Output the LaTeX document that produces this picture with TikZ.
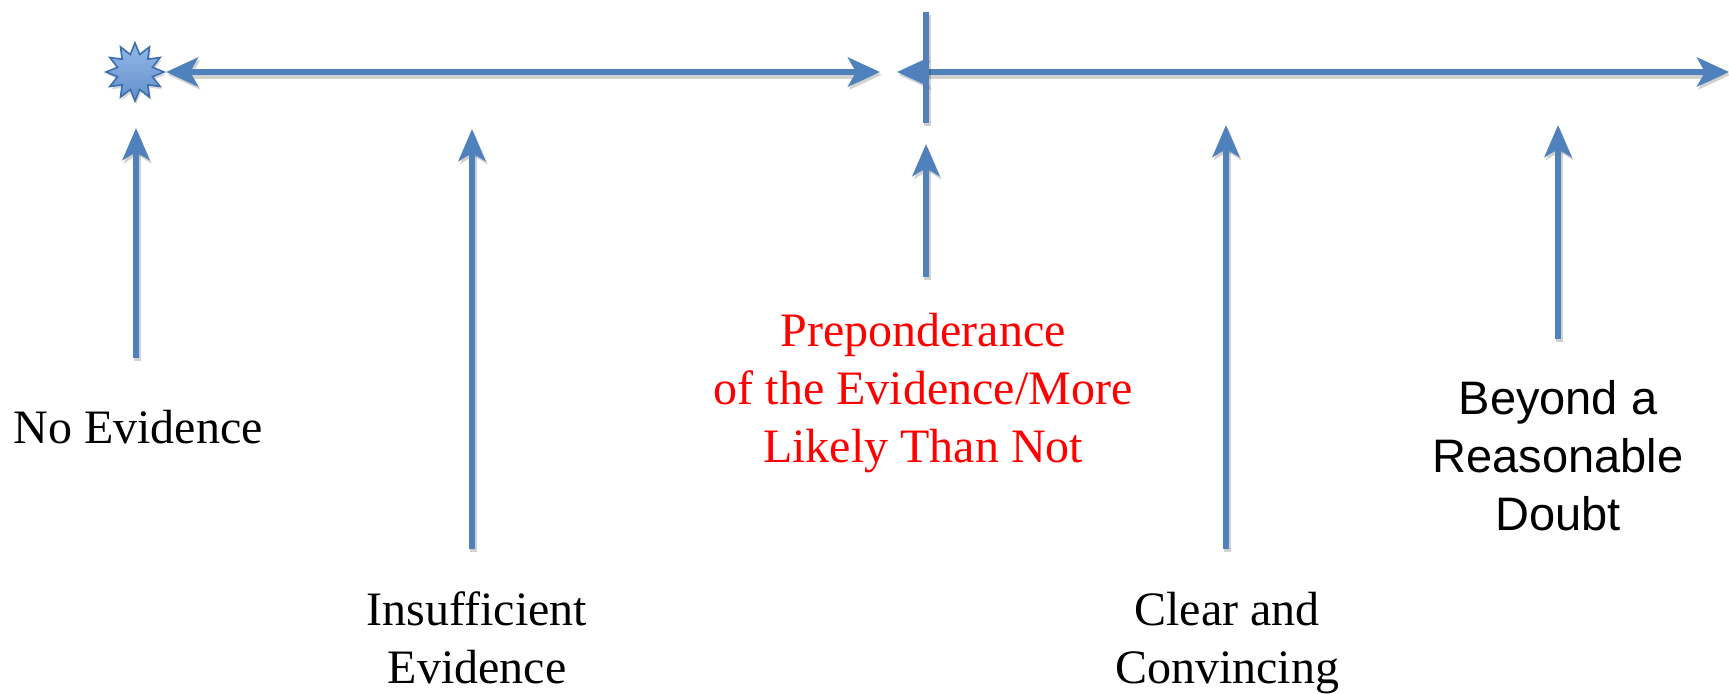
\documentclass[tikz,border=0pt]{standalone}
\usepackage{fontspec}
\setmainfont{Liberation Serif}
\newfontfamily\arialf{Liberation Sans}
\usetikzlibrary{arrows.meta,shapes.geometric}
\definecolor{barblue}{RGB}{79,129,189}
\definecolor{starfill}{RGB}{110,160,225}
\definecolor{starrim}{RGB}{60,110,175}
\begin{document}
\begin{tikzpicture}[x=0.5pt,y=-0.5pt,
  bar/.style={draw=barblue, line width=3.2pt,
    preaction={draw=black, opacity=0.18, line width=3.8pt,
      transform canvas={shift={(0.8pt,-1.4pt)}}}},
  headboth/.style={{Stealth[length=16pt,width=14.5pt,inset=4pt]}-{Stealth[length=16pt,width=14.5pt,inset=4pt]}},
  headup/.style={-{Stealth[length=16pt,width=13.5pt,inset=4pt]}},
  lbl/.style={anchor=base, align=center, inner sep=0pt, font=\fontsize{24}{29}\selectfont},
  lblsans/.style={lbl, font=\arialf\fontsize{23.5}{29}\selectfont},
]
\useasboundingbox (0,0) rectangle (1729,693);

% star
\node[star, star points=12, star point ratio=1.6, shape border rotate=0,
      minimum size=29pt, inner sep=0pt, top color=starfill!75!white, bottom color=starfill!90!black,
      draw=starrim, line width=0.8pt,
      preaction={fill=black, opacity=0.15, transform canvas={shift={(0.8pt,-1.4pt)}}}] (s) at (135,72) {};

% main line coordinates
\coordinate (m1) at (880,72);
\coordinate (m2) at (897,72);
\coordinate (m3) at (1729,72);
\coordinate (v1) at (926,12);
\coordinate (v2) at (926,123);

\draw[bar, headboth] (s.east) -- (m1);
\draw[bar, headboth] (m2) -- (m3);
\draw[bar] (v1) -- (v2);

% up-arrow endpoints
\coordinate (a1b) at (136,358); \coordinate (a1t) at (136,128);
\coordinate (a2b) at (472,549); \coordinate (a2t) at (472,129);
\coordinate (a3b) at (926,277); \coordinate (a3t) at (926,144);
\coordinate (a4b) at (1226,549); \coordinate (a4t) at (1226,125);
\coordinate (a5b) at (1558,339); \coordinate (a5t) at (1558,125);

\draw[bar, headup] (a1b) -- (a1t);
\draw[bar, headup] (a2b) -- (a2t);
\draw[bar, headup] (a3b) -- (a3t);
\draw[bar, headup] (a4b) -- (a4t);
\draw[bar, headup] (a5b) -- (a5t);

% labels (base anchor = baseline of the last line)
\node[lbl] (noev) at (138,443) {No Evidence};
\node[lbl] (insuf) at (477,683) {Insufficient\\Evidence};
\node[lbl, text=red] (prep) at (923,462) {Preponderance\\of the Evidence/More\\Likely Than Not};
\node[lbl] (clear) at (1227,683) {Clear and\\Convincing};
\node[lblsans] (beyond) at (1558,530) {Beyond a\\Reasonable\\Doubt};
\end{tikzpicture}
\end{document}
